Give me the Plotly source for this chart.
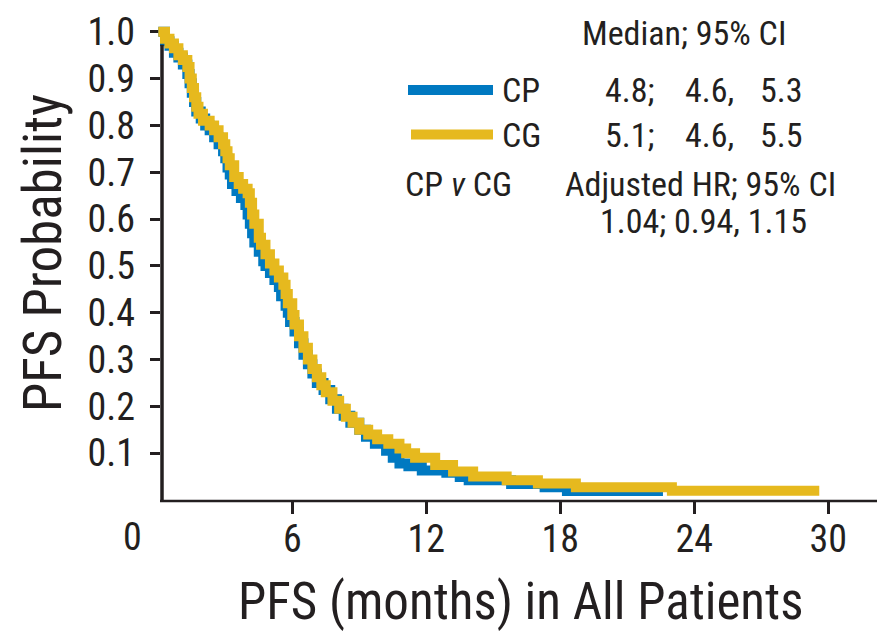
import plotly.graph_objects as go

# Kaplan-Meier progression-free survival estimates (months, probability)
cp_months = [0, 0.3, 0.5, 0.7, 0.9, 1.1, 1.3, 1.4, 1.5, 1.6, 1.7, 1.9, 2.1, 2.3, 2.5,
             2.7, 2.9, 3.0, 3.1, 3.2, 3.3, 3.5, 3.7, 3.9, 4.0, 4.1, 4.2, 4.3, 4.5,
             4.7, 4.8, 5.0, 5.2, 5.4, 5.5, 5.7, 5.8, 5.9, 6.1, 6.3, 6.5, 6.7, 6.9,
             7.1, 7.4, 7.7, 8.0, 8.3, 8.6, 9.0, 9.3, 9.7, 10.2, 10.5, 10.8, 11.2,
             11.8, 12.9, 13.5, 13.9, 15.8, 17.3, 18.3, 22.6]
cp_surv = [1.0, 0.98, 0.97, 0.955, 0.945, 0.93, 0.91, 0.89, 0.87, 0.85, 0.83, 0.815,
           0.80, 0.79, 0.775, 0.76, 0.745, 0.73, 0.71, 0.695, 0.675, 0.66, 0.645,
           0.63, 0.61, 0.59, 0.57, 0.55, 0.53, 0.51, 0.50, 0.485, 0.47, 0.455,
           0.435, 0.415, 0.40, 0.38, 0.36, 0.335, 0.31, 0.29, 0.27, 0.25, 0.235,
           0.215, 0.195, 0.18, 0.165, 0.15, 0.135, 0.12, 0.105, 0.09, 0.078, 0.072,
           0.063, 0.058, 0.049, 0.042, 0.034, 0.027, 0.019, 0.019]

cg_months = [0, 0.3, 0.5, 0.7, 0.9, 1.1, 1.3, 1.4, 1.5, 1.6, 1.7, 1.8, 2.0, 2.3, 2.5,
             2.7, 2.9, 3.0, 3.1, 3.2, 3.4, 3.6, 3.8, 4.0, 4.1, 4.2, 4.3, 4.5, 4.6,
             4.8, 5.0, 5.2, 5.4, 5.6, 5.7, 5.8, 6.0, 6.1, 6.3, 6.5, 6.7, 6.9, 7.1,
             7.3, 7.5, 7.8, 8.1, 8.4, 8.7, 9.0, 9.4, 9.8, 10.3, 10.8, 11.1, 11.5,
             12.4, 13.2, 14.1, 15.6, 17.0, 18.7, 23.0, 29.6]
cg_surv = [1.0, 0.985, 0.975, 0.965, 0.95, 0.94, 0.925, 0.90, 0.88, 0.86, 0.84,
           0.825, 0.81, 0.80, 0.79, 0.775, 0.76, 0.745, 0.73, 0.715, 0.69, 0.675,
           0.665, 0.655, 0.635, 0.61, 0.59, 0.56, 0.545, 0.525, 0.505, 0.49, 0.475,
           0.46, 0.44, 0.42, 0.395, 0.375, 0.35, 0.325, 0.30, 0.28, 0.262, 0.245,
           0.23, 0.212, 0.195, 0.178, 0.165, 0.15, 0.14, 0.13, 0.12, 0.11, 0.10,
           0.09, 0.075, 0.061, 0.05, 0.042, 0.035, 0.027, 0.02, 0.02]

x_ticks = [6, 12, 18, 24, 30]
y_ticks = [0.1, 0.2, 0.3, 0.4, 0.5, 0.6, 0.7, 0.8, 0.9, 1.0]
y_tick_text = ["0.1", "0.2", "0.3", "0.4", "0.5", "0.6", "0.7", "0.8", "0.9", "1.0"]

groups = ["CP", "CG"]
medians = [["4.8;", "4.6,", "5.3"], ["5.1;", "4.6,", "5.5"]]
hr_text = "1.04; 0.94, 1.15"

BLUE = "#0079C1"
GOLD = "#E6B91E"
INK = "#231F20"
FONT = "Roboto Condensed, Liberation Sans, Arial, sans-serif"

W, H = 877, 632
L, R, T, B = 150, 15, 10, 132
PW, PH = W - L - R, H - T - B


def px(x):
    return (x - L) / PW


def py(y):
    return (H - B - y) / PH


fig = go.Figure()
fig.add_trace(go.Scatter(x=cp_months, y=cp_surv, mode="lines", name="CP",
                         line=dict(color=BLUE, width=10, shape="hv"),
                         showlegend=False))
fig.add_trace(go.Scatter(x=cg_months, y=cg_surv, mode="lines", name="CG",
                         line=dict(color=GOLD, width=10, shape="hv"),
                         showlegend=False))

shapes = [
    # axis lines
    dict(type="line", xref="paper", yref="paper", x0=px(162), x1=px(162),
         y0=py(39), y1=py(501), line=dict(color=INK, width=3.5)),
    dict(type="line", xref="paper", yref="paper", x0=px(160), x1=px(877),
         y0=py(501), y1=py(501), line=dict(color=INK, width=2.5)),
    # legend swatches
    dict(type="line", xref="paper", yref="paper", x0=px(408), x1=px(493),
         y0=py(85), y1=py(85), line=dict(color=BLUE, width=10)),
    dict(type="line", xref="paper", yref="paper", x0=px(411), x1=px(493),
         y0=py(130), y1=py(130), line=dict(color=GOLD, width=10)),
]


def note(text, x, y, size=34, xanchor="left", angle=0):
    return dict(text=text, xref="paper", yref="paper", x=px(x), y=py(y),
                xanchor=xanchor, yanchor="middle", showarrow=False,
                textangle=angle, font=dict(family=FONT, size=size, color=INK))


annotations = [
    note("Median; 95% CI", 684, 27, xanchor="center"),
    note(groups[0], 500, 85),
    note(groups[1], 500, 130),
    note("CP <i>v</i> CG", 403, 180),
    note("Adjusted HR; 95% CI", 563, 180),
    note(hr_text, 598, 218),
    note("0", 132, 537, size=38, xanchor="center"),
    note("PFS (months) in All Patients", 520, 603, size=51, xanchor="center"),
    note("PFS Probability", 43, 250, size=53, xanchor="center", angle=-90),
]
for row, yy in zip(medians, [85, 130]):
    for txt, xx in zip(row, [603, 683, 758]):
        annotations.append(note(txt, xx, yy))

fig.update_layout(
    width=W, height=H,
    margin=dict(l=L, r=R, t=T, b=B, pad=0),
    paper_bgcolor="white", plot_bgcolor="white",
    shapes=shapes, annotations=annotations,
    xaxis=dict(range=[(L - 158.3) / 22.33, (W - R - 158.3) / 22.33],
               tickvals=x_ticks, ticktext=[str(v) for v in x_ticks],
               ticks="outside", ticklen=13, tickwidth=3, tickcolor=INK,
               ticklabelstandoff=-8,
               showline=False, showgrid=False, zeroline=False,
               tickfont=dict(family=FONT, size=38, color=INK)),
    yaxis=dict(range=[0, PH / 474.0],
               tickvals=y_ticks, ticktext=y_tick_text,
               ticks="inside", ticklen=10, tickwidth=3, tickcolor=INK,
               ticklabelstandoff=14, layer="below traces",
               showline=False, showgrid=False, zeroline=False,
               tickfont=dict(family=FONT, size=38, color=INK)),
)

fig.write_html("out.html")
